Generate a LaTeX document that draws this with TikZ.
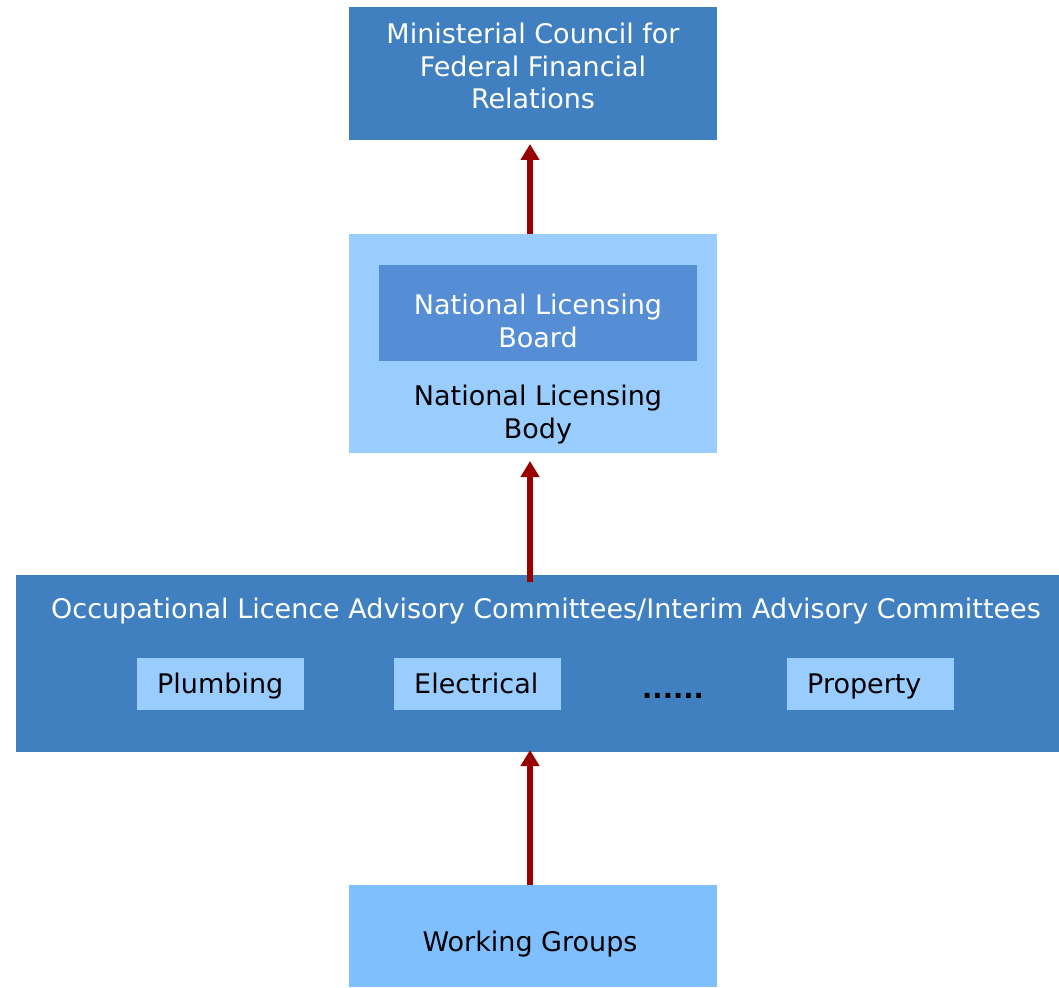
\documentclass[tikz,border=0pt]{standalone}
\usepackage{fontspec}
\setmainfont{DejaVu Sans}
\usetikzlibrary{arrows.meta}
\definecolor{darkbox}{HTML}{4180C0}
\definecolor{innerbox}{HTML}{558ED5}
\definecolor{lightbox}{HTML}{99CCFF}
\definecolor{wgbox}{HTML}{80BFFF}
\definecolor{arrowred}{HTML}{990000}
\tikzset{
  box/.style={rectangle, inner sep=0pt, outer sep=0pt, align=center},
  txt/.style={font=\fontsize{27}{32.5}\selectfont, align=center, inner sep=0pt, anchor=base},
  item/.style={box, fill=lightbox, minimum width=167pt, minimum height=52pt},
  itemtxt/.style={font=\fontsize{27}{32.5}\selectfont, anchor=base west, inner sep=0pt, text=black},
  uparrow/.style={draw=arrowred, line width=6pt, -{Triangle[width=18pt,length=16pt]}}
}
\begin{document}
\begin{tikzpicture}[x=1pt,y=-1pt]
\useasboundingbox (0,0) rectangle (1059,987);
% Ministerial council
\node[box, fill=darkbox, minimum width=368pt, minimum height=133pt] (mc) at (533,73.5) {};
\node[txt, text=white] (mct) at (533,109) {Ministerial Council for\\Federal Financial\\Relations};
% National licensing body
\node[box, fill=lightbox, minimum width=368pt, minimum height=219pt] (nlb) at (533,343.5) {};
\node[box, fill=innerbox, minimum width=318pt, minimum height=96pt] (board) at (538,313) {};
\node[txt, text=white] (boardt) at (538,347) {National Licensing\\Board};
\node[txt, text=black] (nlbt) at (538,438) {National Licensing\\Body};
% OLAC
\node[box, fill=darkbox, minimum width=1043pt, minimum height=177pt] (olac) at (537.5,663.5) {};
\node[txt, text=white] (olact) at (546,618) {Occupational Licence Advisory Committees/Interim Advisory Committees};
\node[item] (plumb) at (220.5,684) {};
\node[itemtxt] (plumbt) at (157,693) {Plumbing};
\node[item] (elec) at (477.5,684) {};
\node[itemtxt] (elect) at (414,693) {Electrical};
\node[txt, font=\bfseries\fontsize{27}{32.5}\selectfont] (dots) at (673,698) {......};
\node[item] (prop) at (870.5,684) {};
\node[itemtxt] (propt) at (807,693) {Property};
% Working groups
\node[box, fill=wgbox, minimum width=368pt, minimum height=102pt] (wg) at (533,936) {};
\node[txt, text=black] (wgt) at (530,951) {Working Groups};
% arrows
\coordinate (a1s) at (530,234);
\coordinate (a1e) at (530,144);
\draw[uparrow] (a1s) -- (a1e);
\coordinate (a2s) at (530,582);
\coordinate (a2e) at (530,461);
\draw[uparrow] (a2s) -- (a2e);
\coordinate (a3s) at (530,885);
\coordinate (a3e) at (530,750);
\draw[uparrow] (a3s) -- (a3e);
\end{tikzpicture}
\end{document}
